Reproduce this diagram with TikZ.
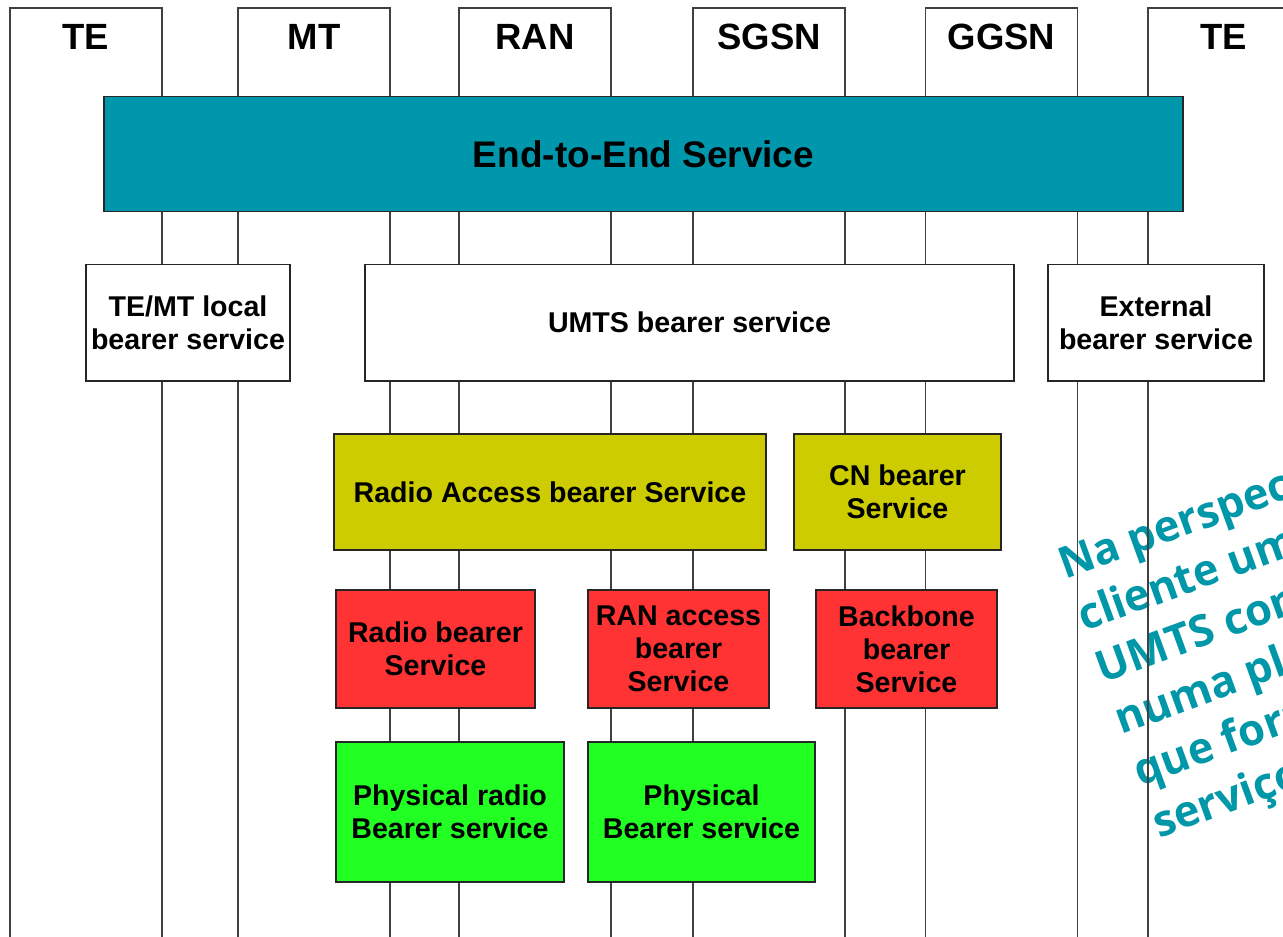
\documentclass[tikz,border=0pt]{standalone}
\usepackage{fontspec}
\setmainfont{Liberation Sans}
\newfontfamily\notefont{Open Sans}

\definecolor{e2eteal}{HTML}{0096AC}
\definecolor{noteteal}{HTML}{0097A9}
\definecolor{raboliv}{HTML}{CCCC00}
\definecolor{bearred}{HTML}{FF3333}
\definecolor{physgreen}{HTML}{22FF22}
\definecolor{lifegray}{HTML}{404040}

\begin{document}
\begin{tikzpicture}[x=1pt,y=-1pt,
  lifeline/.style={draw=lifegray, line width=1.5pt, line join=miter},
  hdrframe/.style={inner sep=0pt, minimum width=152pt, minimum height=89pt},
  hdrtext/.style={inner sep=0pt, font=\bfseries\fontsize{36.5}{40}\selectfont},
  svc/.style={draw=black!85, line width=1.5pt, align=center, inner sep=0pt,
              font=\bfseries\fontsize{28.6}{33}\selectfont},
  note/.style={anchor=base west, inner sep=0pt, text=noteteal,
               font=\notefont\bfseries\fontsize{43.5}{56}\selectfont},
]
\useasboundingbox (0,0) rectangle (1283,937);
\clip (0,0) rectangle (1283,937);

% slanted remark, lying under the lifelines
\begin{scope}[shift={(1065,580)}, rotate=20, transform shape]
  \node[note] (n1) at (0,0)   {Na perspectiva do};
  \node[note] (n2) at (0,55)  {cliente uma rede};
  \node[note] (n3) at (0,110) {UMTS consiste};
  \node[note] (n4) at (0,165) {numa plataforma};
  \node[note] (n5) at (0,220) {que fornece};
  \node[note] (n6) at (0,275) {serviços};
\end{scope}

% bottom edge of the lifelines
\coordinate (bot) at (0,937);

% network elements: header frames and their lifelines
\foreach \name/\cx/\lab in {hTEa/86/TE, hMT/314/MT, hRAN/535/RAN,
                            hSGSN/769/SGSN, hGGSN/1001.5/GGSN, hTEb/1224/TE} {
  \node[hdrframe] (\name) at (\cx,52.5) {};
  \node[hdrtext] (\name-t) at ([yshift=-29pt]\name.north) {\lab};
  \draw[lifeline] (\name.south west |- bot) -- (\name.north west)
                  -- (\name.north east) -- (\name.south east |- bot);
}

% end-to-end service
\node[svc, fill=e2eteal, minimum width=1079pt, minimum height=115pt,
      font=\bfseries\fontsize{37}{40}\selectfont] (e2e) at (643.5,154) {End-to-End Service};

% bearer service layer
\node[svc, fill=white, minimum width=204pt, minimum height=116.5pt] (temt) at (188,322.75)
  {TE/MT local\\bearer service};
\node[svc, fill=white, minimum width=649pt, minimum height=116.5pt] (umts) at (689.5,322.75)
  {UMTS bearer service};
\node[svc, fill=white, minimum width=216pt, minimum height=116.5pt] (ext) at (1156,322.75)
  {External\\bearer service};

% UMTS sub-services
\node[svc, fill=raboliv, minimum width=432pt, minimum height=116pt] (rab) at (550,492)
  {Radio Access bearer Service};
\node[svc, fill=raboliv, minimum width=207pt, minimum height=116pt] (cn) at (897.5,492)
  {CN bearer\\Service};

\node[svc, fill=bearred, minimum width=199pt, minimum height=118pt] (rb) at (435.5,649)
  {Radio bearer\\Service};
\node[svc, fill=bearred, minimum width=181pt, minimum height=118pt] (ranacc) at (678.5,649)
  {RAN access\\bearer\\Service};
\node[svc, fill=bearred, minimum width=181pt, minimum height=118pt] (bb) at (906.5,649)
  {Backbone\\bearer\\Service};

\node[svc, fill=physgreen, minimum width=228pt, minimum height=140pt] (prb) at (450,812)
  {Physical radio\\Bearer service};
\node[svc, fill=physgreen, minimum width=227pt, minimum height=140pt] (pb) at (701.5,812)
  {Physical\\Bearer service};
\end{tikzpicture}
\end{document}
